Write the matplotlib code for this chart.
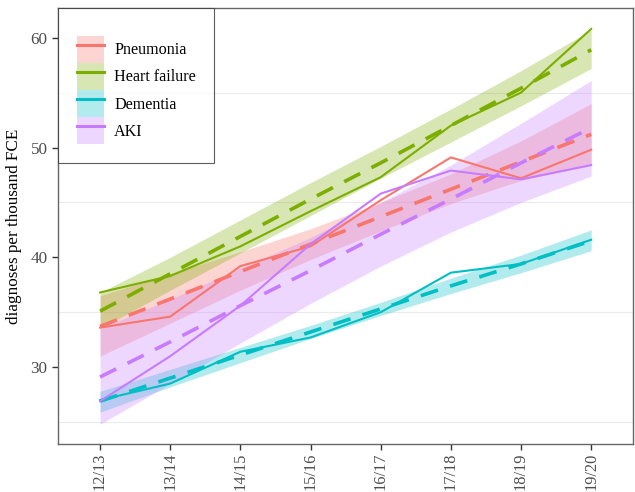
import matplotlib.pyplot as plt
from matplotlib.patches import Patch
from matplotlib.lines import Line2D
import numpy as np

plt.rcParams['font.family'] = ['Liberation Serif', 'DejaVu Serif']

years = ["12/13", "13/14", "14/15", "15/16", "16/17", "17/18", "18/19", "19/20"]
conditions = ["Pneumonia", "Heart failure", "Dementia", "AKI"]
colours = ["#F8766D", "#7CAE00", "#00BFC4", "#C77CFF"]

# observed rates
pneumonia = [33.6, 34.6, 39.2, 41.0, 45.2, 49.1, 47.2, 49.8]
heart_failure = [36.8, 38.3, 41.0, 44.2, 47.3, 52.0, 55.0, 60.8]
dementia = [27.0, 28.5, 31.4, 32.7, 35.0, 38.6, 39.4, 41.6]
aki = [26.9, 31.0, 35.6, 41.2, 45.8, 47.9, 47.1, 48.4]

# fitted trend
pneumonia_fit = [33.7, 36.2, 38.7, 41.2, 43.7, 46.2, 48.7, 51.2]
heart_failure_fit = [35.1, 38.5, 41.9, 45.3, 48.6, 52.0, 55.4, 58.9]
dementia_fit = [26.9, 29.0, 31.1, 33.2, 35.3, 37.4, 39.4, 41.5]
aki_fit = [29.1, 32.3, 35.6, 38.8, 42.1, 45.3, 48.6, 51.8]

# confidence bands
pneumonia_lo = [31.0, 34.0, 37.0, 39.8, 42.4, 44.9, 47.0, 48.4]
pneumonia_hi = [36.5, 38.5, 40.5, 42.6, 45.0, 47.6, 50.6, 54.0]
heart_failure_lo = [33.5, 37.0, 40.4, 43.8, 47.2, 50.5, 53.8, 57.2]
heart_failure_hi = [36.8, 40.0, 43.4, 46.8, 50.1, 53.5, 57.0, 60.7]
dementia_lo = [25.9, 28.2, 30.4, 32.6, 34.7, 36.7, 38.6, 40.6]
dementia_hi = [27.8, 29.8, 31.8, 33.8, 35.9, 38.1, 40.2, 42.5]
aki_lo = [24.8, 28.5, 32.2, 35.8, 39.2, 42.3, 45.0, 47.4]
aki_hi = [33.5, 36.2, 39.0, 41.8, 45.0, 48.4, 52.2, 56.1]

observed = [pneumonia, heart_failure, dementia, aki]
fitted = [pneumonia_fit, heart_failure_fit, dementia_fit, aki_fit]
lows = [pneumonia_lo, heart_failure_lo, dementia_lo, aki_lo]
highs = [pneumonia_hi, heart_failure_hi, dementia_hi, aki_hi]

fig = plt.figure(figsize=(6.35, 4.92), dpi=100)
ax = fig.add_axes([0.0913, 0.0976, 0.906, 0.886])

x = np.arange(len(years))
for name, col, obs, fit, lo, hi in zip(conditions, colours, observed, fitted, lows, highs):
    ax.fill_between(x, lo, hi, color=col, alpha=0.3, linewidth=0)
    ax.plot(x, obs, color=col, lw=1.5)
    ax.plot(x, fit, color=col, lw=2.6, dashes=(5, 3.5))

for g in [25, 35, 45, 55]:
    ax.axhline(g, color="#ebebeb", lw=0.8, zorder=0)

ax.set_xlim(-0.6, 7.6)
ax.set_ylim(23.0, 62.7)
ax.set_xticks(x)
ax.set_xticklabels(years, rotation=90)
ax.set_yticks([30, 40, 50, 60])
ax.tick_params(labelsize=12.3, labelcolor="#4d4d4d", color="#333333", length=4, width=1)
ax.tick_params(axis="x", labelsize=11.8, pad=2)
ax.set_ylabel("diagnoses per thousand FCE", fontsize=12.3, labelpad=6)
for s in ax.spines.values():
    s.set_color("#666666")
    s.set_linewidth(1)

handles = [(Patch(facecolor=c, alpha=0.3, edgecolor="none"), Line2D([], [], color=c, lw=2.2))
           for c in colours]
leg = ax.legend(handles, conditions, loc="upper left", bbox_to_anchor=(0, 1),
                fontsize=11.6, frameon=True, fancybox=False, edgecolor="#333333",
                handlelength=1.68, handleheight=2.22, labelspacing=0, borderpad=1.15,
                handletextpad=0.65, borderaxespad=0, title=" ", title_fontsize=7.5)
leg.get_frame().set_linewidth(0.8)

fig.savefig("out.png", dpi=100)
